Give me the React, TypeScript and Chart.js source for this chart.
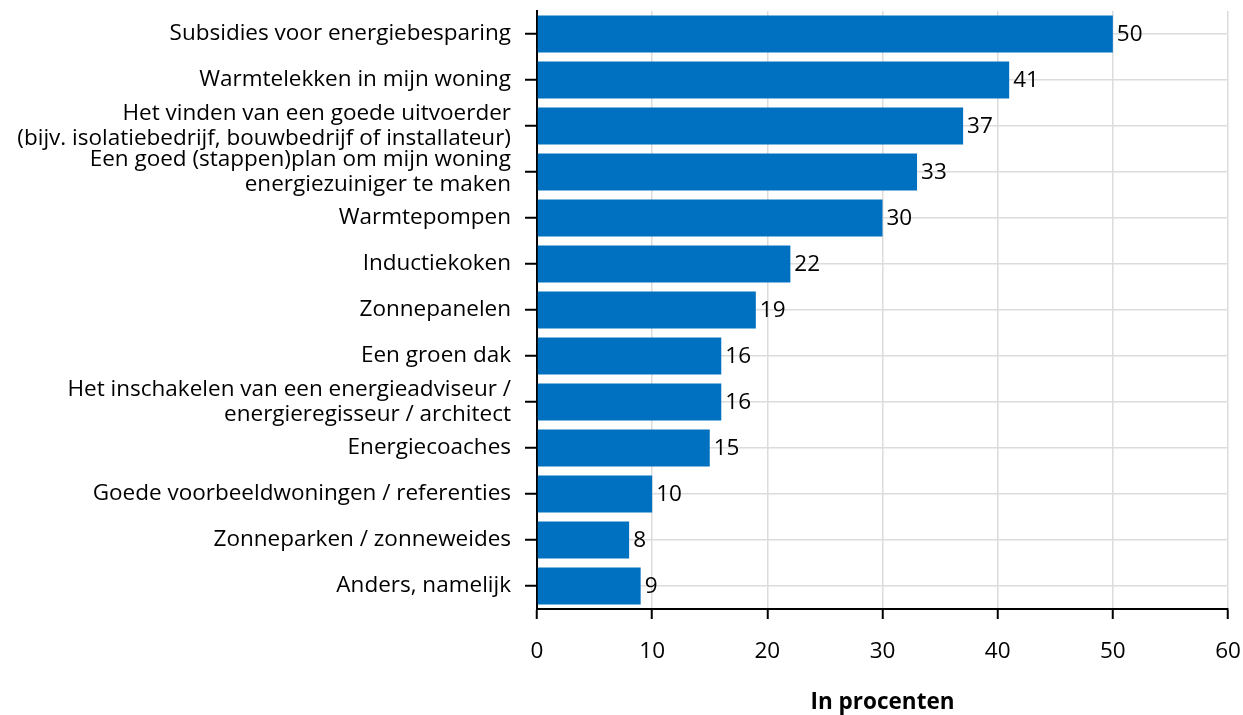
import React, { useEffect, useRef } from "react";
import { Chart, registerables } from "chart.js";

Chart.register(...registerables);

const categories: (string | string[])[] = [
  "Subsidies voor energiebesparing",
  "Warmtelekken in mijn woning",
  ["Het vinden van een goede uitvoerder", "(bijv. isolatiebedrijf, bouwbedrijf of installateur)"],
  ["Een goed (stappen)plan om mijn woning", "energiezuiniger te maken"],
  "Warmtepompen",
  "Inductiekoken",
  "Zonnepanelen",
  "Een groen dak",
  ["Het inschakelen van een energieadviseur /", "energieregisseur / architect"],
  "Energiecoaches",
  "Goede voorbeeldwoningen / referenties",
  "Zonneparken / zonneweides",
  "Anders, namelijk",
];

const values: number[] = [50, 41, 37, 33, 30, 22, 19, 16, 16, 15, 10, 8, 9];

const xTicks = { min: 0, max: 60, step: 10 };
const axisTitle = "In procenten";

const FONT = "'Open Sans', 'Noto Sans', sans-serif";
const BAR_COLOR = "#0070C0";
const FS = 22.5;

const valueLabels = {
  id: "valueLabels",
  afterDatasetsDraw(chart: any) {
    const ctx = chart.ctx;
    const meta = chart.getDatasetMeta(0);
    ctx.save();
    ctx.font = `${FS}px ${FONT}`;
    ctx.fillStyle = "#000";
    ctx.textAlign = "left";
    ctx.textBaseline = "middle";
    meta.data.forEach((bar: any, i: number) => {
      ctx.fillText(String(values[i]), bar.x + 4, bar.y + 1);
    });
    ctx.restore();
  },
};

export default function App() {
  const ref = useRef<HTMLCanvasElement | null>(null);
  useEffect(() => {
    document.body.style.margin = "0";
    const chart = new Chart(ref.current as HTMLCanvasElement, {
      type: "bar",
      data: {
        labels: categories,
        datasets: [
          {
            data: values,
            backgroundColor: BAR_COLOR,
            barPercentage: 0.8,
            categoryPercentage: 1,
          },
        ],
      },
      options: {
        indexAxis: "y",
        animation: false,
        responsive: true,
        maintainAspectRatio: false,
        layout: { padding: { left: 0, right: 0, top: 0, bottom: 0 } },
        plugins: {
          legend: { display: false },
          tooltip: { enabled: false },
        },
        scales: {
          x: {
            min: xTicks.min,
            max: xTicks.max,
            ticks: {
              stepSize: xTicks.step,
              color: "#000",
              padding: 19,
              font: { family: FONT, size: FS },
            },
            grid: {
              color: "#dcdcdc",
              lineWidth: 1.5,
              tickColor: "#000",
              tickLength: 10,
              tickWidth: 2,
            },
            border: { display: true, color: "#000", width: 2 },
            title: {
              display: true,
              text: axisTitle,
              color: "#000",
              font: { family: FONT, size: FS, weight: "bold" },
              padding: { top: 0, bottom: -1 },
            },
            afterFit: (scale: any) => {
              scale.height = 106;
              scale.paddingRight = 15;
              scale.paddingLeft = 0;
            },
          },
          y: {
            ticks: {
              color: "#000",
              padding: 14,
              font: { family: FONT, size: FS, lineHeight: 1.13 },
              autoSkip: false,
            },
            grid: {
              offset: false,
              color: "#dcdcdc",
              lineWidth: 1.5,
              tickColor: "#000",
              tickLength: 12,
              tickWidth: 2,
            },
            border: { display: true, color: "#000", width: 2 },
            afterFit: (scale: any) => {
              scale.width = 537;
              scale.paddingTop = 11;
              scale.paddingBottom = 0;
            },
          },
        },
      },
      plugins: [valueLabels],
    });
    return () => chart.destroy();
  }, []);
  return (
    <div style={{ position: "absolute", left: 0, top: 0, width: 1243, height: 715 }}>
      <canvas ref={ref} />
    </div>
  );
}
